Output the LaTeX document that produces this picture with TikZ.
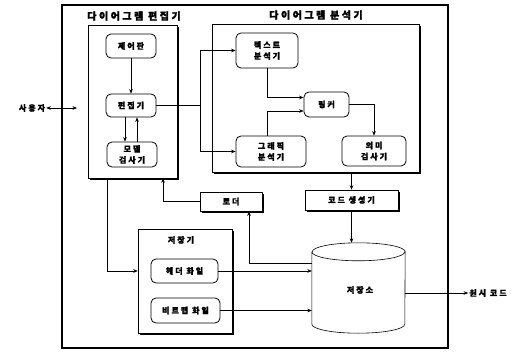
\documentclass[tikz,border=0pt]{standalone}
\usepackage{fontspec}
\newfontfamily\kr{Noto Sans CJK KR}[LetterSpace=25, BoldFeatures={FakeBold=1.5}]
\usetikzlibrary{shadows,arrows.meta,calc}
\tikzset{
  arr/.style={-{Stealth[length=4.5pt,width=3.6pt]}, line width=0.6pt},
  ln/.style={line width=0.6pt},
  rbox/.style={draw, line width=0.8pt, rounded corners=5pt, fill=white, align=center, inner sep=0pt},
  shad/.style={drop shadow={shadow xshift=2.2pt, shadow yshift=-2.2pt, fill=black, opacity=1}},
  grp/.style={draw, line width=0.5pt, fill=white, shad, inner sep=0pt},
  sbox/.style={draw, line width=0.6pt, fill=white, shad, inner sep=0pt},
  ttl/.style={font=\kr\bfseries\fontsize{10}{12}\selectfont, inner sep=1pt},
}
\begin{document}
\begin{tikzpicture}[x=1pt,y=-1pt, font=\kr\bfseries\fontsize{8}{11}\selectfont]
\path[fill=white, use as bounding box] (0,0) rectangle (528,353);
% outer frame
\node[draw, line width=2.2pt, minimum width=386pt, minimum height=343pt, inner sep=0pt] (outer) at (255,176.5) {};
% group boxes
\node[grp, minimum width=89pt, minimum height=153pt] (edbox) at (132.5,101.5) {};
\node[grp, minimum width=207pt, minimum height=148pt] (anbox) at (315.5,98) {};
\node[grp, minimum width=94pt, minimum height=104pt] (stbox) at (185,281) {};
% titles
\node[ttl] (edtitle) at (134,16) {다이어그램 편집기};
\node[ttl] (antitle) at (316,15) {다이어그램 분석기};
\node[inner sep=1pt] (sttitle) at (181,240) {저장기};
% editor nodes
\node[rbox, minimum width=50pt, minimum height=24pt] (ctrl) at (131,46) {제어판};
\node[rbox, minimum width=50pt, minimum height=23pt] (edit) at (131,105.5) {편집기};
\node[rbox, minimum width=50pt, minimum height=25pt] (model) at (132,154.5) {모델\\검사기};
% analyzer nodes
\node[rbox, minimum width=62pt, minimum height=35pt] (txt) at (267,50.5) {텍스트\\분석기};
\node[rbox, minimum width=70pt, minimum height=31pt] (gfx) at (271,151.5) {그래픽\\분석기};
\node[rbox, minimum width=45pt, minimum height=25pt] (link) at (326.5,104.5) {링커};
\node[rbox, minimum width=64pt, minimum height=30pt] (sem) at (374,151) {의미\\검사기};
% loader, code generator
\node[sbox, minimum width=62pt, minimum height=19pt] (loader) at (231,201.5) {로더};
\node[sbox, minimum width=93pt, minimum height=20pt] (cg) at (351.5,200) {코드 생성기};
% storage files
\node[rbox, minimum width=67pt, minimum height=24pt] (hdr) at (184.5,271) {헤더 화일};
\node[rbox, minimum width=69pt, minimum height=25pt] (bmp) at (185.5,310.5) {비트맵 화일};
% repository cylinder
\node[minimum width=93pt, minimum height=90pt, inner sep=0pt] (db) at (358.5,288) {};
\draw[line width=0.6pt] (db.north west) ++(0,9) -- ($(db.south west)+(0,-9)$)
  arc (180:360:46.5pt and 9pt) -- ($(db.north east)+(0,9)$)
  arc (0:180:46.5pt and 9pt);
\draw[line width=0.6pt] ($(db.north west)+(0,9)$) arc (180:360:46.5pt and 9pt);
\node[inner sep=1pt] (dblabel) at (360,290) {저장소};
% outside labels
\node[inner sep=1pt] (user) at (32,108) {사용자};
\coordinate (ue) at (77,108);
\node[inner sep=1pt] (src) at (488,293) {원시 코드};
% connectors
\draw[{Stealth[length=4.5pt,width=3.6pt]}-{Stealth[length=4.5pt,width=3.6pt]}, line width=0.6pt] (user.east) -- (ue);
\draw[arr] (ctrl.south) -- (edit.north);
\draw[arr] ([xshift=-6pt]edit.south) -- ([xshift=-6pt]edit.south |- model.north);
\draw[arr] ([xshift=6pt]edit.south |- model.north) -- ([xshift=6pt]edit.south);
\coordinate (br) at (200,0);
\draw[ln] (edit.east) -- (edit.east -| br);
\draw[arr] (edit.east -| br) |- (txt.west);
\draw[arr] (edit.east -| br) |- (gfx.west);
\draw[arr] (txt.south) |- ([yshift=7pt]link.west);
\draw[arr] (txt.south |- gfx.north) |- ([yshift=-6.5pt]link.west);
\draw[arr] (link.east) -| (sem.north);
\draw[arr] (cg.north |- anbox.south) -- (cg.north);
\draw[arr] (cg.south) -- (cg.south |- db.north);
\draw[arr] ([yshift=25pt]db.west) -| ([xshift=18pt]loader.south);
\draw[arr] (loader.west) -| ([xshift=30.5pt]edbox.south);
\draw[arr] ([xshift=-25.5pt]edbox.south) |- (stbox.west |- hdr.west);
\draw[arr] (hdr.east) -- (hdr.east -| db.west);
\draw[arr] (bmp.east) -- (bmp.east -| db.west);
\draw[arr] (db.east |- src.west) -- (src.west);
\end{tikzpicture}
\end{document}
